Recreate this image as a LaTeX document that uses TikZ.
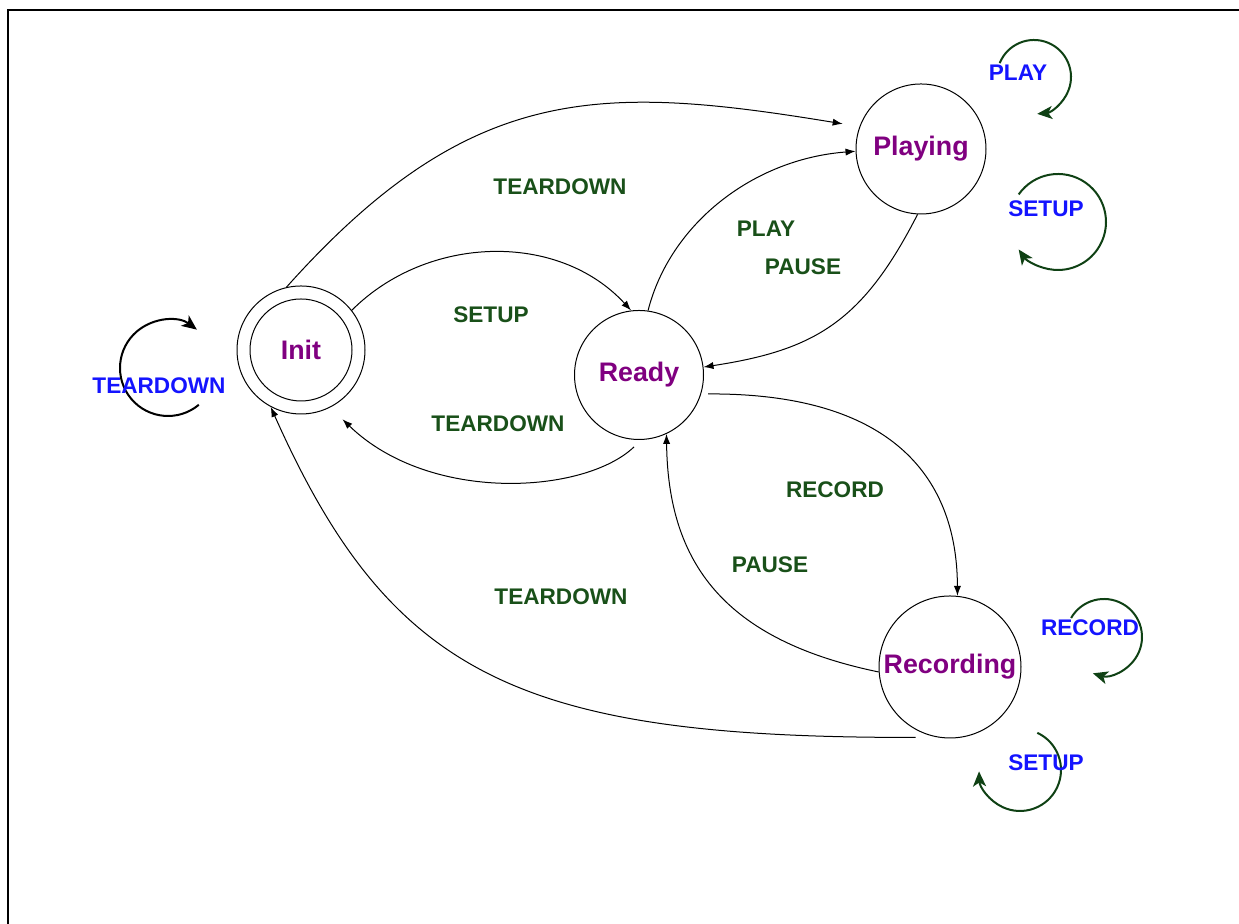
\documentclass[tikz,border=0pt]{standalone}
\usepackage{fontspec}
\setmainfont{Liberation Sans}
\usetikzlibrary{arrows.meta}

\definecolor{statepurple}{RGB}{128,0,128}
\definecolor{labelgreen}{RGB}{25,80,25}
\definecolor{loopgreen}{RGB}{15,65,20}
\definecolor{loopblue}{RGB}{20,20,255}

\begin{document}
\begin{tikzpicture}[x=0.5pt,y=0.5pt,
  state/.style={circle,draw,line width=0.5pt,inner sep=0pt,
    font=\fontsize{13.4}{16}\selectfont\bfseries,text=statepurple},
  trans/.style={line width=0.5pt,-{Latex[length=5pt,width=3.6pt]}},
  edgelabel/.style={inner sep=0pt,font=\fontsize{11.3}{13}\selectfont\bfseries,text=labelgreen},
  looplabel/.style={inner sep=0pt,font=\fontsize{11.3}{13}\selectfont\bfseries,text=loopblue},
  selfloop/.style={line width=1pt,draw=loopgreen,
    -{Stealth[length=7.5pt,width=6.5pt,inset=2pt]}},
]
\useasboundingbox (0,0) rectangle (1239,924);

% page frame (top and left rules)
\draw[line width=1.1pt] (1239,914) -- (8,914) -- (8,0);

% states
\node[state,minimum size=64pt] (init) at (301,574) {};
\node[state,minimum size=51pt] (initcore) at (init) {Init};
\node[state,minimum size=64.5pt] (ready) at (639,549) {Ready};
\node[state,minimum size=65pt] (playing) at (921,775) {Playing};
\node[state,minimum size=71pt] (recording) at (950,257) {Recording};

% transitions between states
\draw[trans,shorten >=8.5pt] (init.103) .. controls (470,842) and (600,840) .. (playing.160);
\draw[trans] (init.38) .. controls (427,689) and (558,693) .. (ready.97);
\draw[trans,shorten <=5pt,shorten >=8.5pt] (ready.-88) .. controls (585,430) and (430,420) .. (init.-63);
\draw[trans] (ready.82) .. controls (670,700) and (753,765) .. (playing.182);
\draw[trans] (playing.-93) .. controls (863,603) and (816,574) .. (ready.7);
\draw[trans,shorten <=3.5pt] (ready.-17) .. controls (888,531) and (957,450) .. (recording.84);
\draw[trans] (recording.-176) .. controls (724,284) and (668,361) .. (ready.-65);
\draw[trans,shorten <=11pt] (recording.-100) .. controls (520,186) and (391,247) .. (init.-118);

% transition labels
\node[edgelabel] (lbltopteardown) at (560,737) {TEARDOWN};
\node[edgelabel] (lblsetup) at (491,609) {SETUP};
\node[edgelabel] (lblmidteardown) at (498,500) {TEARDOWN};
\node[edgelabel] (lblplay) at (766,695) {PLAY};
\node[edgelabel] (lblpauseup) at (803,657) {PAUSE};
\node[edgelabel] (lblrecord) at (835,434) {RECORD};
\node[edgelabel] (lblpauselow) at (770,359) {PAUSE};
\node[edgelabel] (lbllowteardown) at (561,327) {TEARDOWN};

% self loops
\coordinate (initloopc) at (168,556);
\coordinate (playloopc) at (1034,847);
\coordinate (psetuploopc) at (1058,702);
\coordinate (recloopc) at (1104,287);
\coordinate (rsetuploopc) at (1020,154);

\draw[selfloop,draw=black] (initloopc) ++(-50:24pt) arc[start angle=-50,end angle=-307,radius=24pt];
\draw[selfloop] (playloopc) ++(158:18.5pt) arc[start angle=158,end angle=-85,radius=18.5pt];
\draw[selfloop] (psetuploopc) ++(145:24pt) arc[start angle=145,end angle=-145,radius=24pt];
\draw[selfloop] (recloopc) ++(150:19pt) arc[start angle=150,end angle=-107,radius=19pt];
\draw[selfloop] (rsetuploopc) ++(65:20.5pt) arc[start angle=65,end angle=-178,radius=20.5pt];

% self loop labels
\node[looplabel] (lblinitloop) at (159,538) {TEARDOWN};
\node[looplabel] (lblplayloop) at (1018,851) {PLAY};
\node[looplabel] (lblpsetuploop) at (1046,715) {SETUP};
\node[looplabel] (lblrecloop) at (1090,296) {RECORD};
\node[looplabel] (lblrsetuploop) at (1046,161) {SETUP};
\end{tikzpicture}
\end{document}
